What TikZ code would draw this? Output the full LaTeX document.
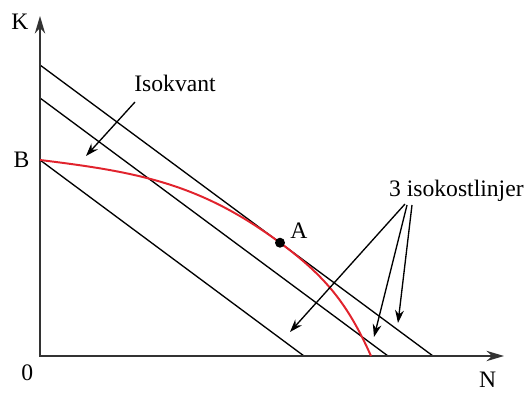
\documentclass[tikz,border=0pt]{standalone}
\usepackage{fontspec}
\setmainfont{Liberation Serif}
\usetikzlibrary{arrows.meta}
\definecolor{kred}{RGB}{225,35,45}
\tikzset{
  lbl/.style={font=\fontsize{16.8}{20}\selectfont, inner sep=0pt, anchor=base},
  kaxis/.style={line width=1pt, draw=black!80, {Stealth[length=4.4mm, width=2.6mm]}-{Stealth[length=4.4mm, width=2.6mm]}},
  kline/.style={line width=0.95pt},
  kcurve/.style={line width=1.4pt, draw=kred},
  pointer/.style={-{Stealth[length=3.2mm, width=2.2mm]}, line width=0.95pt},
}
\begin{document}
\begin{tikzpicture}
    \useasboundingbox (-1,-1) rectangle (12.275,8.9);
    % axes and fixed points
    \coordinate (origin) at (0,0);
    \coordinate (ytip) at (0,8.5);
    \coordinate (xtip) at (11.6,0);
    \coordinate (B) at (0,4.9);
    \coordinate (A) at (6,2.832);
    \coordinate (qend) at (8.275,0);
    % isocost lines
    \coordinate (top0) at (0,7.275); \coordinate (top1) at (9.825,0);
    \coordinate (mid0) at (0,6.45);  \coordinate (mid1) at (8.7,0);
    \coordinate (low1) at (6.6,0);
    \draw[kline] (top0) -- (top1);
    \draw[kline] (mid0) -- (mid1);
    \draw[kline] (B) -- (low1);
    \draw[kaxis] (ytip) -- (origin) -- (xtip);
    % isoquant
    \draw[kcurve] (B) to[out=-7, in=143.5] (A) to[out=-36.5, in=114] (qend);
    \fill (A) circle (0.125);
    % labels
    \node[lbl] (klabel) at (-0.5,8.15) {K};
    \node[lbl] (nlabel) at (11.19,-0.8) {N};
    \node[lbl] (blabel) at (-0.46,4.7) {B};
    \node[lbl] (zero) at (-0.32,-0.625) {0};
    \node[lbl] (alabel) at (6.475,2.925) {A};
    \node[lbl] (isokvant) at (3.375,6.61) {Isokvant};
    \node[lbl] (isokost) at (10.41,3.98) {3 isokostlinjer};
    % pointers
    \coordinate (p0) at (2.375,6.35); \coordinate (q0) at (1.15,5.0);
    \coordinate (p1) at (9.125,3.8);  \coordinate (q1) at (6.25,0.6);
    \coordinate (p2) at (9.175,3.775); \coordinate (q2) at (8.35,0.475);
    \coordinate (p3) at (9.3,3.775);  \coordinate (q3) at (8.95,0.825);
    \draw[pointer] (p0) -- (q0);
    \draw[pointer] (p1) -- (q1);
    \draw[pointer] (p2) -- (q2);
    \draw[pointer] (p3) -- (q3);
\end{tikzpicture}
\end{document}
